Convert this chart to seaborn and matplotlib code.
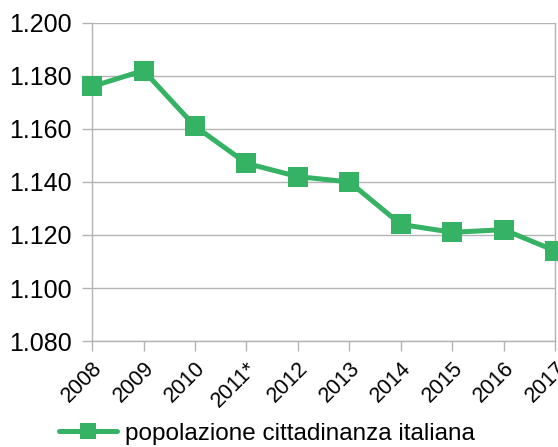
import matplotlib
matplotlib.use("Agg")
import matplotlib.pyplot as plt
from matplotlib.ticker import FuncFormatter, MultipleLocator
import seaborn as sns
import pandas as pd

# Data (population in thousands)
anni = ['2008', '2009', '2010', '2011*', '2012', '2013', '2014', '2015', '2016', '2017']
popolazione = [1176, 1182, 1161, 1147, 1142, 1140, 1124, 1121, 1122, 1114]
serie = 'popolazione cittadinanza italiana'

df = pd.DataFrame({'anno': anni, 'valore': popolazione})

sns.set_theme(style='white')
plt.rcParams['font.family'] = ['Liberation Sans', 'DejaVu Sans']

GREEN = '#35b263'
GRID = '#b3b3b3'

fig = plt.figure(figsize=(5.58, 4.47), dpi=100)
ax = fig.add_axes([0.165, 0.237, 0.83, 0.712])

sns.lineplot(data=df, x='anno', y='valore', ax=ax, color=GREEN, linewidth=3.6,
             marker='s', markersize=14.5, markeredgewidth=0, label=serie, sort=False,
             clip_on=False, zorder=5)

ax.set_xlim(0, len(anni) - 1)
ax.set_ylim(1080, 1200)
ax.yaxis.set_major_locator(MultipleLocator(20))
ax.yaxis.set_major_formatter(FuncFormatter(lambda v, p: f"{v:,.0f}".replace(",", ".")))
ax.grid(axis='y', color=GRID, linewidth=1)
ax.set_axisbelow(True)

for side in ['left', 'right', 'bottom']:
    ax.spines[side].set_visible(True)
    ax.spines[side].set_color(GRID)
    ax.spines[side].set_linewidth(1)
ax.spines['top'].set_visible(False)

ax.tick_params(axis='y', labelsize=18, length=7.5, color=GRID, width=1, direction='out',
               left=True, labelcolor='black', pad=7)
ax.tick_params(axis='x', labelsize=15.5, length=7, color=GRID, width=1, direction='out',
               bottom=True, labelcolor='black', pad=5)
plt.setp(ax.get_xticklabels(), rotation=45, ha='right', va='top', rotation_mode='anchor')

ax.set_xlabel('')
ax.set_ylabel('')

ax.get_legend().remove()
handles, labels = ax.get_legend_handles_labels()
fig.legend(handles, labels, loc='center', bbox_to_anchor=(0.478, 0.03), frameon=False,
           fontsize=17.5, handlelength=2.4, handletextpad=0.3, borderpad=0,
           markerscale=0.75, labelcolor='black')

fig.savefig('out.png', dpi=100)
plt.close(fig)
